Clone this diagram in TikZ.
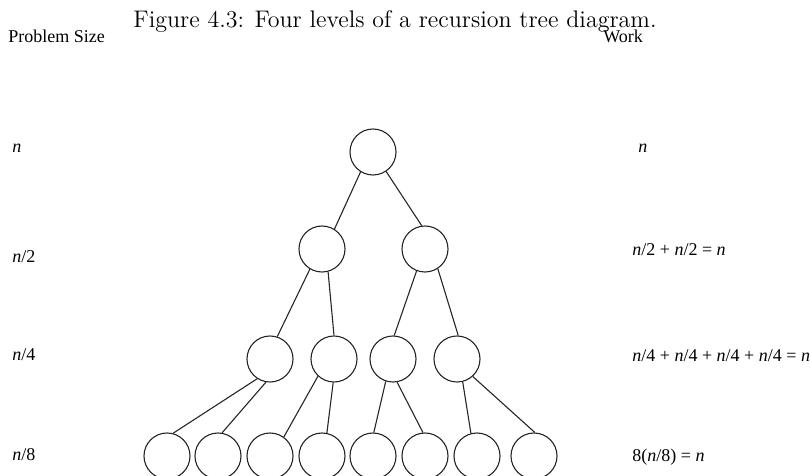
\documentclass[tikz,border=0pt]{standalone}
\usepackage{fontspec}
\newfontfamily\tms{Liberation Serif}
\begin{document}
\begin{tikzpicture}[x=0.5pt,y=-0.5pt,
  tn/.style={circle,draw=black!85,line width=0.55pt,minimum size=23pt,inner sep=0pt},
  edge/.style={draw=black!85,line width=0.55pt},
  lbl/.style={anchor=base west,inner sep=0pt,font=\tms\fontsize{9}{11}\selectfont},
  ttl/.style={anchor=base,inner sep=0pt,font=\fontsize{12}{14}\selectfont}]
\useasboundingbox (0,0) rectangle (811,476);
\node[ttl] (title) at (395,28) {Figure 4.3: Four levels of a recursion tree diagram.};
\node[lbl] (ps) at (8,43) {Problem Size};
\node[lbl] (wk) at (603,43) {Work};
% left labels
\node[lbl] (l1) at (12,153) {\itshape n};
\node[lbl] (l2) at (12,263) {{\itshape n}/2};
\node[lbl] (l3) at (12,361) {{\itshape n}/4};
\node[lbl] (l4) at (12,461) {{\itshape n}/8};
% right labels
\node[lbl] (w1) at (638,153) {\itshape n};
\node[lbl] (w2) at (632,256) {{\itshape n}/2 + {\itshape n}/2 = {\itshape n}};
\node[lbl] (w3) at (632,362) {{\itshape n}/4 + {\itshape n}/4 + {\itshape n}/4 + {\itshape n}/4 = {\itshape n}};
\node[lbl] (w4) at (632,462) {8({\itshape n}/8) = {\itshape n}};
% tree
\node[tn] (r) at (373,152) {};
\node[tn] (a) at (322,249) {};
\node[tn] (b) at (425,249) {};
\node[tn] (c1) at (270,359) {};
\node[tn] (c2) at (334,359) {};
\node[tn] (c3) at (393,359) {};
\node[tn] (c4) at (457,359) {};
\node[tn] (d1) at (167,456) {};
\node[tn] (d2) at (218,456) {};
\node[tn] (d3) at (270,456) {};
\node[tn] (d4) at (322,456) {};
\node[tn] (d5) at (373,456) {};
\node[tn] (d6) at (425,456) {};
\node[tn] (d7) at (477,456) {};
\node[tn] (d8) at (534,456) {};
\path[edge] (r.238) -- (a.58);
\path[edge] (r.-56) -- (b.98);
\path[edge] (a.239) -- (c1.72);
\path[edge] (a.-75) -- (c2.90);
\path[edge] (b.-111) -- (c3.87);
\path[edge] (b.-57) -- (c4.87);
\path[edge] (c1.-123) -- (d1.75);
\path[edge] (c1.-100) -- (d2.80);
\path[edge] (c2.-133) -- (d3.54);
\path[edge] (c2.-92) -- (d4.78);
\path[edge] (c3.-108) -- (d5.88);
\path[edge] (c3.-80) -- (d6.95);
\path[edge] (c4.-76) -- (d7.105);
\path[edge] (c4.-48) -- (d8.88);
\end{tikzpicture}
\end{document}
